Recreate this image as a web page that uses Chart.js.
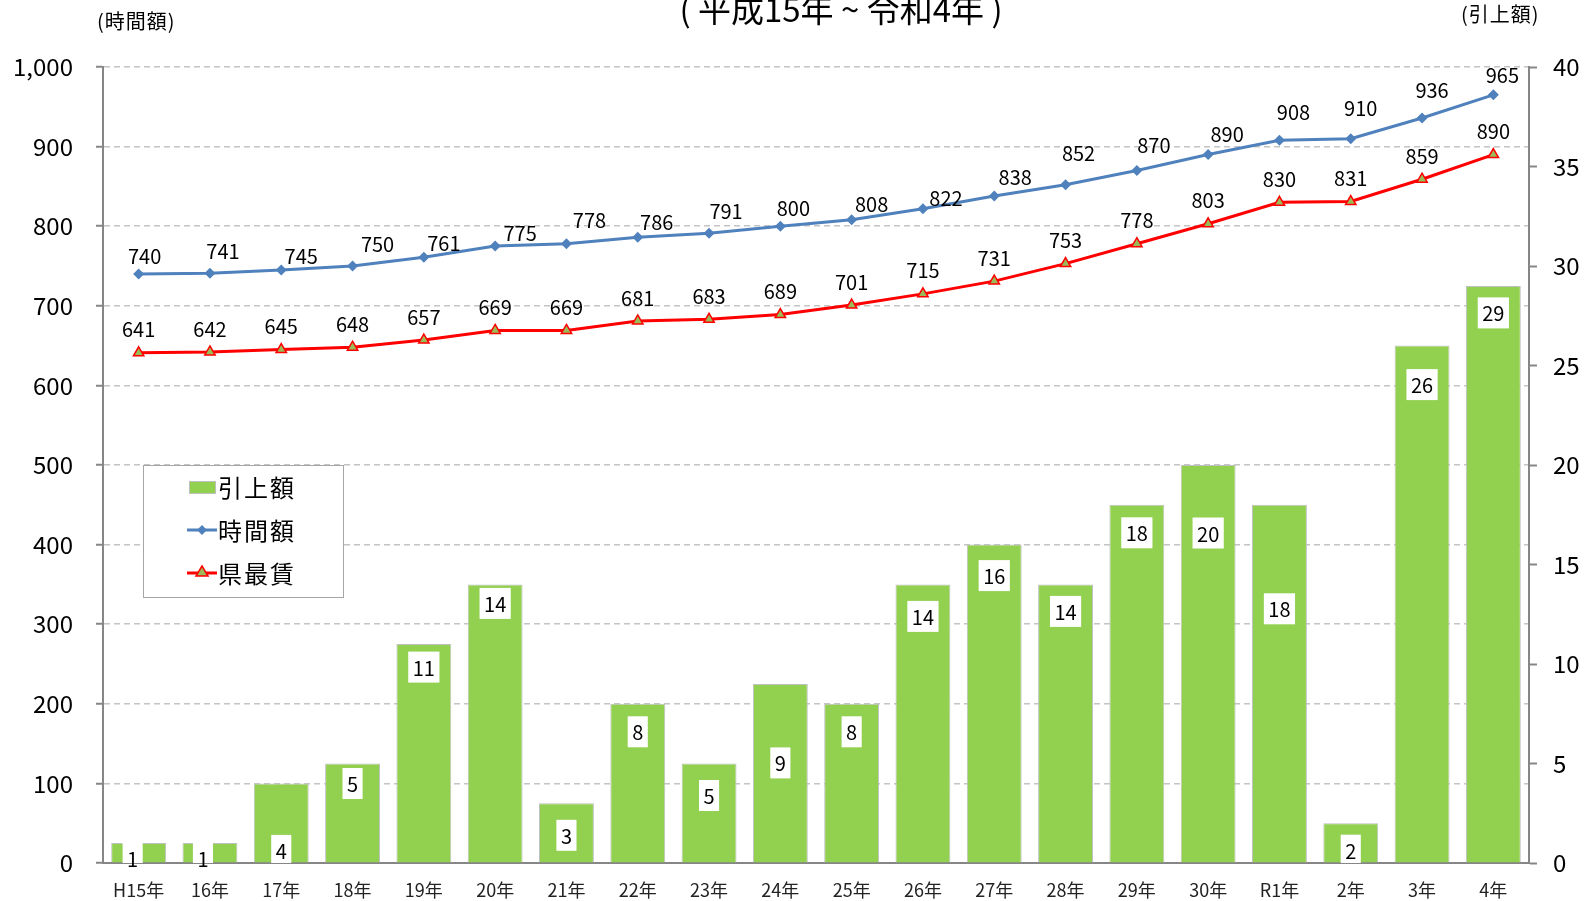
<!DOCTYPE html>
<html>
<head>
<meta charset="utf-8">
<script src="https://cdn.jsdelivr.net/npm/chart.js@4"></script>
<style>
  html, body { margin: 0; background: #fff; }
  #wrap { width: 1592px; height: 901px; }
</style>
</head>
<body>
<div id="wrap"><canvas id="chart"></canvas></div>
<script>
// data
const categories = ["H15年", "16年", "17年", "18年", "19年", "20年", "21年", "22年", "23年", "24年",
  "25年", "26年", "27年", "28年", "29年", "30年", "R1年", "2年", "3年", "4年"];
const raise = [1, 1, 4, 5, 11, 14, 3, 8, 5, 9, 8, 14, 16, 14, 18, 20, 18, 2, 26, 29]; // 引上額
const hourly = [740, 741, 745, 750, 761, 775, 778, 786, 791, 800, 808, 822, 838, 852, 870, 890, 908, 910, 936, 965]; // 時間額
const prefMin = [641, 642, 645, 648, 657, 669, 669, 681, 683, 689, 701, 715, 731, 753, 778, 803, 830, 831, 859, 890]; // 県最賃
const leftTicks = [0, 100, 200, 300, 400, 500, 600, 700, 800, 900, 1000];
const rightTicks = [0, 5, 10, 15, 20, 25, 30, 35, 40];

// hand-placed label offsets (px), as in the original
const barLabelOffsets = [15, 15, 67, 20, 23, 19, 32, 28, 32, 79, 28, 32, 31, 27, 28, 68, 104, 27, 39, 27];
const barLabelDx = [-6, -7, 0, 0, 0, 0, 0, 0, 0, 0, 0, 0, 0, 0, 0, 0, 0, 0, 0, 0];
const hourlyLabelDx = [6, 13, 20, 25, 20, 25, 23, 19, 17, 13, 20, 23, 21, 13, 17, 19, 14, 10, 10, 9];
const hourlyLabelDy = [18, 22, 14, 22, 14, 13, 23, 15, 22, 18, 15, 10, 19, 31, 25, 20, 28, 30, 28, 19];

const FONT = '"Noto Sans CJK JP", "Noto Sans", sans-serif';
const AXIS = "#868686";
const GREEN = "#92d050";
const BLUE = "#4f81bd";
const RED = "#ff0000";

// value labels for bars and lines
const valueLabels = {
  id: "valueLabels",
  afterDatasetsDraw(chart) {
    const ctx = chart.ctx;
    const area = chart.chartArea;
    ctx.save();
    ctx.font = "20px " + FONT;
    ctx.textAlign = "center";
    ctx.textBaseline = "middle";

    chart.getDatasetMeta(0).data.forEach((bar, i) => {
      const txt = String(raise[i]);
      const w = ctx.measureText(txt).width + 9;
      const h = 31;
      const cx = bar.x + barLabelDx[i];
      const cy = bar.y + barLabelOffsets[i];
      ctx.save();
      ctx.beginPath();
      ctx.rect(area.left, area.top, area.right - area.left, area.bottom - area.top);
      ctx.clip();
      ctx.fillStyle = "#fff";
      ctx.fillRect(cx - w / 2, cy - h / 2, w, h);
      ctx.restore();
      ctx.fillStyle = "#000";
      ctx.fillText(txt, cx, cy + 1);
    });

    ctx.fillStyle = "#000";
    chart.getDatasetMeta(1).data.forEach((pt, i) => {
      ctx.fillText(String(hourly[i]), pt.x + hourlyLabelDx[i], pt.y - hourlyLabelDy[i]);
    });
    chart.getDatasetMeta(2).data.forEach((pt, i) => {
      ctx.fillText(String(prefMin[i]), pt.x, pt.y - 23);
    });
    ctx.restore();
  }
};

// title, axis captions and the boxed legend
const decorations = {
  id: "decorations",
  afterDraw(chart) {
    const ctx = chart.ctx;
    ctx.save();
    ctx.fillStyle = "#000";
    ctx.textBaseline = "alphabetic";
    ctx.textAlign = "center";
    ctx.font = "33px " + FONT;
    ctx.fillText("( 平成15年 ~ 令和4年 )", 841, 22);

    ctx.textAlign = "left";
    ctx.textBaseline = "middle";
    ctx.font = "20px " + FONT;
    ctx.letterSpacing = "1px";
    ctx.fillText("(時間額)", 97, 21);
    ctx.fillText("(引上額)", 1461, 14);

    // legend box
    ctx.letterSpacing = "0px";
    ctx.fillStyle = "#fff";
    ctx.fillRect(143, 465, 200, 132);
    ctx.strokeStyle = "#a6a6a6";
    ctx.lineWidth = 1;
    ctx.strokeRect(143.5, 465.5, 200, 132);

    // 引上額
    ctx.fillStyle = GREEN;
    ctx.fillRect(189, 481, 26, 12);
    ctx.strokeStyle = "#bfbfbf";
    ctx.strokeRect(189.5, 481.5, 26, 12);

    // 時間額
    ctx.strokeStyle = BLUE;
    ctx.lineWidth = 3;
    ctx.beginPath(); ctx.moveTo(187, 530); ctx.lineTo(217, 530); ctx.stroke();
    ctx.fillStyle = BLUE;
    ctx.beginPath();
    ctx.moveTo(202, 525); ctx.lineTo(207, 530); ctx.lineTo(202, 535); ctx.lineTo(197, 530);
    ctx.closePath(); ctx.fill();

    // 県最賃
    ctx.strokeStyle = RED;
    ctx.beginPath(); ctx.moveTo(187, 573); ctx.lineTo(217, 573); ctx.stroke();
    ctx.fillStyle = "#9bbb59";
    ctx.lineWidth = 1.5;
    ctx.beginPath();
    ctx.moveTo(202, 566); ctx.lineTo(208, 576); ctx.lineTo(196, 576);
    ctx.closePath(); ctx.fill(); ctx.stroke();

    ctx.fillStyle = "#000";
    ctx.font = "24px " + FONT;
    ctx.letterSpacing = "2px";
    ctx.fillText("引上額", 218, 488);
    ctx.fillText("時間額", 218, 531);
    ctx.fillText("県最賃", 218, 574);
    ctx.restore();
  }
};

new Chart(document.getElementById("chart"), {
  data: {
    labels: categories,
    datasets: [
      {
        type: "bar",
        label: "引上額",
        data: raise,
        yAxisID: "y1",
        backgroundColor: GREEN,
        borderColor: "#c0c0c0",
        borderWidth: 1,
        barPercentage: 0.77,
        categoryPercentage: 1,
        order: 3
      },
      {
        type: "line",
        label: "時間額",
        data: hourly,
        yAxisID: "y",
        borderColor: BLUE,
        backgroundColor: BLUE,
        borderWidth: 3,
        pointStyle: "rectRot",
        pointRadius: 5.5,
        pointBorderWidth: 0,
        tension: 0,
        order: 1
      },
      {
        type: "line",
        label: "県最賃",
        data: prefMin,
        yAxisID: "y",
        borderColor: RED,
        backgroundColor: "#9bbb59",
        borderWidth: 3,
        pointStyle: "triangle",
        pointRadius: 6,
        pointBorderColor: RED,
        pointBorderWidth: 1.5,
        tension: 0,
        order: 2
      }
    ]
  },
  options: {
    responsive: true,
    maintainAspectRatio: false,
    animation: false,
    layout: { padding: { top: 67, left: 0, right: 0, bottom: 0 } },
    plugins: {
      legend: { display: false },
      tooltip: { enabled: false }
    },
    scales: {
      x: {
        grid: { display: false },
        border: { color: AXIS, width: 2 },
        ticks: { font: { size: 18, family: FONT }, color: "#222", padding: 8, maxRotation: 0 },
        afterFit(s) { s.height = 38; }
      },
      y: {
        position: "left",
        min: 0,
        max: 1000,
        afterBuildTicks(s) { s.ticks = leftTicks.map(v => ({ value: v })); },
        grid: {
          color: c => (c.tick && c.tick.value === 0 ? "rgba(0,0,0,0)" : "#c4c4c4"),
          lineWidth: 1.5,
          tickColor: AXIS,
          tickLength: 7,
          tickWidth: 2
        },
        border: { color: AXIS, width: 2, dash: [6, 4] },
        ticks: { font: { size: 24, family: FONT }, color: "#000", padding: 23 },
        afterFit(s) { s.width = 103; }
      },
      y1: {
        position: "right",
        min: 0,
        max: 40,
        afterBuildTicks(s) { s.ticks = rightTicks.map(v => ({ value: v })); },
        grid: { drawOnChartArea: false, tickColor: AXIS, tickLength: 8, tickWidth: 2 },
        border: { color: AXIS, width: 2 },
        ticks: { font: { size: 24, family: FONT }, color: "#000", padding: 16 },
        afterFit(s) { s.width = 63; }
      }
    }
  },
  plugins: [valueLabels, decorations]
});
</script>
</body>
</html>
